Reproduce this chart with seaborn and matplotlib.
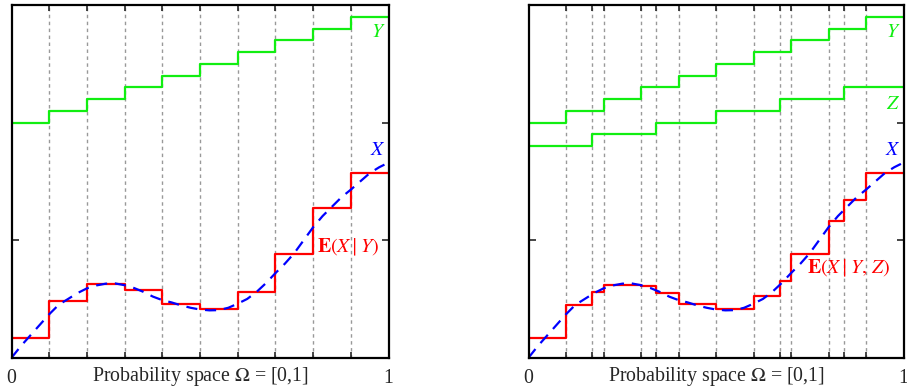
import matplotlib
matplotlib.use("Agg")
import matplotlib.pyplot as plt
import seaborn as sns

# smooth random variable X
omega = [0, 0.025, 0.05, 0.075, 0.1, 0.125, 0.15, 0.175, 0.2, 0.225, 0.25,
         0.275, 0.3, 0.325, 0.35, 0.375, 0.4, 0.425, 0.45, 0.475, 0.5,
         0.525, 0.55, 0.575, 0.6, 0.625, 0.65, 0.675, 0.7, 0.725, 0.75,
         0.775, 0.8, 0.825, 0.85, 0.875, 0.9, 0.925, 0.95, 0.975, 1.0]
x_vals = [0, 0.10, 0.19, 0.28, 0.37, 0.45, 0.50, 0.55, 0.59, 0.615, 0.63,
          0.632, 0.617, 0.593, 0.56, 0.52, 0.49, 0.47, 0.445, 0.425, 0.41,
          0.403, 0.405, 0.425, 0.46, 0.50, 0.56, 0.635, 0.72, 0.80, 0.89,
          1.00, 1.11, 1.205, 1.285, 1.365, 1.43, 1.50, 1.57, 1.62, 1.66]

# Y: ten equal cells
y_edges = [0, 0.1, 0.2, 0.3, 0.4, 0.5, 0.6, 0.7, 0.8, 0.9, 1.0]
y_vals = [2.0, 2.1, 2.2, 2.3, 2.4, 2.5, 2.6, 2.7, 2.8, 2.9]
ey_vals = [0.165, 0.484, 0.624, 0.575, 0.459, 0.414, 0.56, 0.884, 1.27, 1.572]

# Z: six cells
z_edges = [0, 0.17, 0.34, 0.5, 0.67, 0.84, 1.0]
z_vals = [1.8, 1.9, 2.0, 2.1, 2.2, 2.3]

# joint partition of (Y, Z)
yz_edges = [0, 0.1, 0.17, 0.2, 0.3, 0.34, 0.4, 0.5, 0.6, 0.67, 0.7, 0.8,
            0.84, 0.9, 1.0]
eyz_vals = [0.165, 0.448, 0.561, 0.62, 0.612, 0.552, 0.456, 0.417, 0.524,
            0.655, 0.884, 1.162, 1.34, 1.572]

GREEN = "#11ee11"
BLUE = "#0000ff"
RED = "#ff0000"
FS = 14.3

sns.set_style("white")
plt.rcParams["font.family"] = ["Liberation Serif", "DejaVu Serif"]
plt.rcParams["mathtext.fontset"] = "stix"


def steps(ax, edges, vals, color):
    # step function drawn from cell edges, last value held to the end
    sns.lineplot(x=edges, y=list(vals) + [vals[-1]], ax=ax, color=color,
                 lw=1.6, drawstyle="steps-post", estimator=None, sort=False)


def setup(ax, edges):
    for e in edges[1:-1]:
        ax.axvline(e, color="#999999", lw=1.0, ls=(0, (2.5, 2.5)), zorder=0)
    ax.set_xlim(0, 1)
    ax.set_ylim(0, 3)
    ax.set_yticks([1, 2])
    ax.set_yticklabels([])
    ax.set_xticks(edges)
    ax.set_xticklabels(["0"] + [""] * (len(edges) - 2) + ["1"])
    ax.tick_params(axis="x", direction="in", length=4, width=1.2, pad=8,
                   labelsize=FS, bottom=True, top=True)
    ax.tick_params(axis="y", direction="in", length=5, width=1.2,
                   left=True, right=True)
    for s in ax.spines.values():
        s.set_linewidth(1.6)
        s.set_color("black")
    ax.set_xlabel(r"Probability space $\Omega$ = [0,1]", fontsize=FS)
    ax.xaxis.set_label_coords(0.5, -0.022)
    ax.set_ylabel("")


def curve(ax):
    sns.lineplot(x=omega, y=x_vals, ax=ax, color=BLUE, lw=1.6,
                 estimator=None, sort=False)
    ax.lines[-1].set_dashes([5, 3.5])


fig = plt.figure(figsize=(9.07, 3.88), dpi=100)
ax1 = fig.add_axes([0.0127, 0.078, 0.4157, 0.909])
ax2 = fig.add_axes([0.5827, 0.078, 0.4135, 0.909])

# left panel: E(X | Y)
setup(ax1, y_edges)
steps(ax1, y_edges, y_vals, GREEN)
steps(ax1, y_edges, ey_vals, RED)
curve(ax1)
ax1.text(0.972, 2.77, "$Y$", color=GREEN, fontsize=FS, ha="center", va="center")
ax1.text(0.972, 1.765, "$X$", color=BLUE, fontsize=FS, ha="center", va="center")
ax1.text(0.81, 0.94, r"$\mathbf{E}(X\mid Y)$", color=RED, fontsize=FS,
         ha="left", va="center")

# right panel: E(X | Y, Z)
setup(ax2, yz_edges)
steps(ax2, y_edges, y_vals, GREEN)
steps(ax2, z_edges, z_vals, GREEN)
steps(ax2, yz_edges, eyz_vals, RED)
curve(ax2)
ax2.text(0.972, 2.77, "$Y$", color=GREEN, fontsize=FS, ha="center", va="center")
ax2.text(0.972, 2.15, "$Z$", color=GREEN, fontsize=FS, ha="center", va="center")
ax2.text(0.972, 1.765, "$X$", color=BLUE, fontsize=FS, ha="center", va="center")
ax2.text(0.742, 0.762, r"$\mathbf{E}(X\mid Y,\,Z)$", color=RED, fontsize=FS,
         ha="left", va="center")

fig.savefig("out.png", dpi=100)
